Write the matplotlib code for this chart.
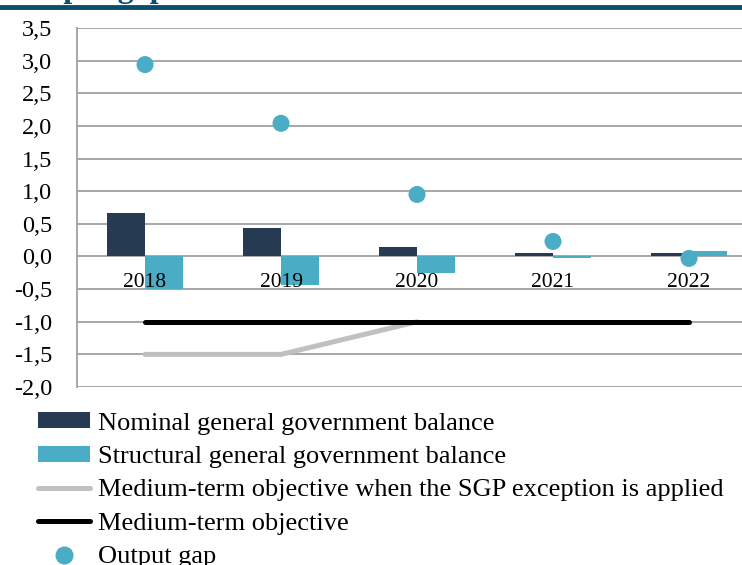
import matplotlib.pyplot as plt
from matplotlib.lines import Line2D
from matplotlib.patches import Patch
import numpy as np

plt.rcParams['font.family'] = ['Liberation Serif', 'DejaVu Serif']

years = ['2018', '2019', '2020', '2021', '2022']
nominal_balance = [0.66, 0.43, 0.15, 0.05, 0.06]
structural_balance = [-0.50, -0.44, -0.25, -0.03, 0.08]
output_gap = [2.94, 2.04, 0.95, 0.23, -0.03]
mto = [-1.0, -1.0, -1.0, -1.0, -1.0]
mto_sgp = [-1.5, -1.5, -1.0, np.nan, np.nan]
y_ticks = [3.5, 3.0, 2.5, 2.0, 1.5, 1.0, 0.5, 0.0, -0.5, -1.0, -1.5, -2.0]

navy = '#263B52'
teal = '#4BACC6'
grid_grey = '#A0A0A0'

fig = plt.figure(figsize=(7.42, 5.65), dpi=100)
ax = fig.add_axes([0.1038, 0.315, 0.9164, 0.6354])

x = np.arange(len(years))
w = 0.28
ax.bar(x - w / 2, nominal_balance, w, color=navy, zorder=3)
ax.bar(x + w / 2, structural_balance, w, color=teal, zorder=3)
ax.plot(x, mto_sgp, color='#C0C0C0', lw=3.6, solid_capstyle='round', zorder=4)
ax.plot(x, mto, color='black', lw=3.6, solid_capstyle='round', zorder=5)
ax.scatter(x, output_gap, s=150, color=teal, edgecolors='none', zorder=6)

ax.set_xlim(-0.5, 4.5)
ax.set_ylim(-2.0, 3.5)
ax.set_yticks(y_ticks)
ax.set_yticklabels([f'{v:.1f}'.replace('.', ',') for v in y_ticks], fontsize=17.5)
ax.tick_params(axis='y', length=0, pad=18)
ax.set_xticks([])
ax.grid(axis='y', color=grid_grey, lw=1.3, zorder=1)
for side in ['top', 'right', 'bottom']:
    ax.spines[side].set_visible(False)
ax.spines['left'].set_color(grid_grey)
ax.spines['left'].set_linewidth(1.3)

# year labels sit just under the zero line
for i, yr in enumerate(years):
    ax.text(i, -0.40, yr, ha='center', va='center', fontsize=15.5, zorder=7)

# title strip at the top of the figure
fig.add_artist(Line2D([0, 1], [1 - 7 / 565, 1 - 7 / 565], transform=fig.transFigure,
                      color='#0B4F6C', lw=3.5))
fig.text(10 / 742, 1 + 3 / 565, 'Output gap', ha='left', va='baseline',
         fontsize=23, fontweight='bold', color='#0B4F6C')

handles = [
    Patch(facecolor=navy, edgecolor='none'),
    Patch(facecolor=teal, edgecolor='none'),
    Line2D([0], [0], color='#C0C0C0', lw=3.6, solid_capstyle='round'),
    Line2D([0], [0], color='black', lw=3.6, solid_capstyle='round'),
    Line2D([0], [0], marker='o', ls='none', color=teal, markersize=12),
]
labels = [
    'Nominal general government balance',
    'Structural general government balance',
    'Medium-term objective when the SGP exception is applied',
    'Medium-term objective',
    'Output gap',
]
fig.legend(handles, labels, loc='upper left', bbox_to_anchor=(20 / 742, 1 - 394 / 565),
           frameon=False, fontsize=19, handlelength=1.97, handletextpad=0.27,
           handleheight=0.55, labelspacing=0.42, borderpad=0.2)

fig.savefig('out.png', dpi=100)
